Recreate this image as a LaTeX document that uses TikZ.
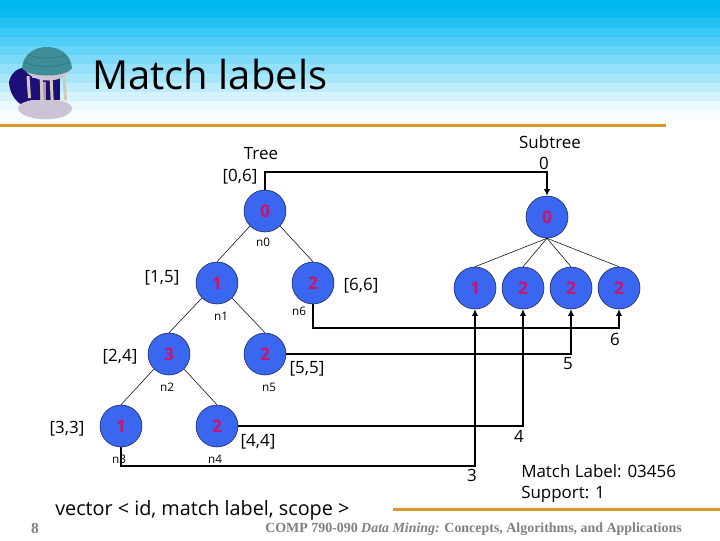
\documentclass[tikz,border=0pt]{standalone}
\usepackage{fontspec}
\setmainfont{Open Sans}
\newfontfamily\footfont{Liberation Serif}
\usepackage{tikz}
\usetikzlibrary{arrows.meta}
\usepackage{xcolor}
\definecolor{skytop}{RGB}{0,183,240}
\definecolor{rulegold}{RGB}{216,152,48}
\definecolor{nodeblue}{RGB}{58,102,240}
\definecolor{nodeline}{RGB}{16,32,90}
\definecolor{labelred}{RGB}{200,20,110}
\definecolor{footgray}{RGB}{128,128,128}
\definecolor{domeblue}{RGB}{62,140,150}
\definecolor{domeline}{RGB}{40,105,120}
\definecolor{shadenavy}{RGB}{30,15,120}
\definecolor{stonegray}{RGB}{205,195,215}
\tikzset{
  treenode/.style={circle, draw=nodeline, fill=nodeblue, minimum size=31.5pt, inner sep=0pt,
    text=labelred, font=\bfseries\fontsize{13}{15}\selectfont},
  treeedge/.style={black, line width=0.4pt},
  matchlink/.style={black, line width=1.15pt},
  matcharrow/.style={matchlink, -{Latex[length=5pt,width=5pt]}},
  scopelabel/.style={font=\fontsize{12.7}{16}\selectfont, inner sep=0pt, align=center},
  namelabel/.style={font=\fontsize{8.8}{10}\selectfont, inner sep=0pt}
}
\begin{document}
\begin{tikzpicture}[x=0.75pt, y=-0.75pt]
\useasboundingbox (0,0) rectangle (720,540);
\fill[white] (0,0) rectangle (720,540);

% ---- slide header ----
\foreach \i in {0,...,12} {
  \pgfmathsetmacro{\mixval}{max(3,min(100,104-\i*105/12))}
  \fill[skytop!\mixval!white] (0,{\i*9.2}) rectangle (720,{(\i+1)*9.2+0.5});
}
\fill[rulegold] (0,124) rectangle (666,127);
\fill[rulegold] (393,507.5) rectangle (720,510.5);

% ---- temple ----
\fill[shadenavy] (9,82) .. controls (11,70) and (24,64) .. (32,70) -- (34,106) .. controls (24,110) and (10,100) .. (9,82) -- cycle;
\fill[stonegray] (18,108) .. controls (20,96) and (70,96) .. (72,108) .. controls (72,123) and (20,123) .. (18,108) -- cycle;
\fill[shadenavy] (30,78) rectangle (60,100);
\fill[stonegray!80!black] (40,82) rectangle (46,100);
\foreach \colx/\coly in {28/98,41/104,51/107,64/100} {
  \fill[stonegray!85!yellow] (\colx-1.5,76) -- (\colx+1.5,76) -- (\colx+3,\coly) -- (\colx,\coly) -- cycle;
}
\fill[stonegray] (25,70) .. controls (34,84) and (62,84) .. (71,70) -- cycle;
\fill[domeblue] (22,68) .. controls (24,40) and (70,40) .. (72,68) .. controls (66,78) and (28,78) .. (22,68) -- cycle;
\draw[domeline, line width=0.3pt] (24,62) .. controls (36,68) and (58,68) .. (70,62);
\draw[domeline, line width=0.3pt] (29,55) .. controls (38,59) and (56,59) .. (65,55);

% ---- titles ----
\node[font=\fontsize{30}{34}\selectfont, anchor=base west, inner sep=0pt] (title) at (92,89) {Match labels};
\node[scopelabel] (treecap) at (261,154) {Tree};
\node[scopelabel] (rootscope) at (240,177) {[0,6]};
\node[scopelabel] (subcap) at (550,142) {Subtree};
\node[scopelabel] (subzero) at (544,163) {0};

% ---- tree ----
\node[treenode] (n0) at (265,211) {0};
\node[treenode] (n1) at (217,283) {1};
\node[treenode] (n6) at (313,283) {2};
\node[treenode] (n2) at (169,354) {3};
\node[treenode] (n5) at (265,354) {2};
\node[treenode] (n3) at (121,426) {1};
\node[treenode] (n4) at (217,426) {2};
\draw[treeedge] (n0.south west) -- (n1.north);
\draw[treeedge] (n0.south east) -- (n6.north);
\draw[treeedge] (n1.south west) -- (n2.north);
\draw[treeedge] (n1.south east) -- (n5.north);
\draw[treeedge] (n2.south west) -- (n3.north);
\draw[treeedge] (n2.south east) -- (n4.north);

\node[namelabel] (lab0) at (263,242) {n0};
\node[namelabel] (lab1) at (221,316) {n1};
\node[namelabel] (lab6) at (299,311) {n6};
\node[namelabel] (lab2) at (167,387) {n2};
\node[namelabel] (lab5) at (269,387) {n5};
\node[namelabel] (lab3) at (119,459) {n3};
\node[namelabel] (lab4) at (215,459) {n4};

\node[scopelabel] (scope1) at (162,278) {[1,5]};
\node[scopelabel] (scope6) at (361,286) {[6,6]};
\node[scopelabel] (scope2) at (120,357) {[2,4]};
\node[scopelabel] (scope5) at (307,369) {[5,5]};
\node[scopelabel] (scope3) at (67,429) {[3,3]};
\node[scopelabel] (scope4) at (258,442) {[4,4]};

% ---- subtree ----
\node[treenode] (s0) at (547,217) {0};
\node[treenode] (s1) at (475,288) {1};
\node[treenode] (s2) at (523,288) {2};
\node[treenode] (s3) at (571,288) {2};
\node[treenode] (s4) at (619,288) {2};
\foreach \kid in {s1,s2,s3,s4} {
  \draw[treeedge] (s0.south) -- (\kid.north);
}

% ---- links from tree to subtree ----
\coordinate (bend0) at (547,172);
\coordinate (bend6) at (619,328);
\coordinate (bend5) at (571,354);
\coordinate (bend4) at (523,426);
\coordinate (bend3) at (475,466);
\draw[matcharrow] (n0.north) |- (bend0) -- (s0.north);
\draw[matcharrow] (n6.south) |- (bend6) -- (s4.south);
\draw[matcharrow] (n5.east) -- (bend5) -- (s3.south);
\draw[matcharrow] (n4.east) -- (bend4) -- (s2.south);
\draw[matcharrow] (n3.south) |- (bend3) -- (s1.south);

\node[scopelabel] (num6) at (615,339) {6};
\node[scopelabel] (num5) at (568,364) {5};
\node[scopelabel] (num4) at (519,436) {4};
\node[scopelabel] (num3) at (472,475) {3};

\node[scopelabel, align=left, anchor=north west] (matchtext) at (521,464) {Match Label: 03456\\Support: 1};
\node[font=\fontsize{14.85}{18}\selectfont, anchor=base west, inner sep=0pt] (vectext) at (55,515) {vector < id, match label, scope >};

% ---- footer ----
\node[font=\footfont\bfseries\fontsize{11.5}{12}\selectfont, text=footgray, inner sep=0pt] (pagenum) at (35,528) {8};
\node[font=\footfont\bfseries\fontsize{10.45}{12}\selectfont, text=footgray, anchor=base west, inner sep=0pt] (foottext) at (265,532) {COMP 790-090 \textit{Data Mining:} Concepts, Algorithms, and Applications};
\end{tikzpicture}
\end{document}
